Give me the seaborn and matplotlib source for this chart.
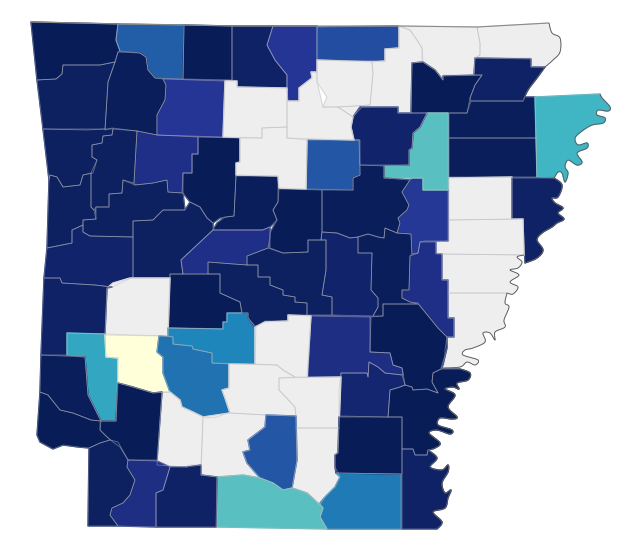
import numpy as np
import matplotlib
matplotlib.use("Agg")
import matplotlib.pyplot as plt
from matplotlib.collections import PolyCollection, LineCollection
from matplotlib.colors import Normalize
import seaborn as sns

nan = float("nan")

# county -> value (share, 0-100); NaN = no data (grey)
counties = ["Benton","Carroll","Boone","Marion","Baxter","Fulton","Izard","Sharp","Randolph","Clay",
 "Lawrence","Greene","Craighead","Poinsett","Mississippi","Cross","Crittenden","StFrancis","Lee","Phillips",
 "Monroe","Woodruff","Jackson","Independence","Cleburne","White","Faulkner","Conway","Pope","Johnson",
 "Newton","Madison","Washington","Crawford","Franklin","Sebastian","Logan","Scott","Yell","Perry",
 "Garland","Montgomery","Polk","Howard","Pike","Clark","HotSpring","Saline","Pulaski","Lonoke",
 "Prairie","Arkansas","Desha","Lincoln","Jefferson","Grant","Dallas","Cleveland","Calhoun","Ouachita",
 "Drew","Ashley","Chicot","DrewN","Bradley","Union","Nevada","Columbia","Lafayette","Miller",
 "Sevier","LittleRiver","Searcy","Stone","VanBuren"]
values = [100,75,100,97,87,80,nan,nan,nan,nan,
 100,97,99,99,50,nan,97,nan,nan,nan,
 90,86,45,96,77,99,100,99,100,90,
 87,99,98,98,98,98,98,96,98,90,
 100,nan,97,55,0,70,65,98,98,96,
 99,100,100,95,91,nan,nan,nan,nan,nan,
 nan,68,97,100,77,45,100,97,91,98,
 99,100,nan,nan,nan]

boundaries = [
 [(31,22),(118,24),(116,40),(120,51),(118,52),(115,62),(100,65),(63,65),(62,74),(56,79),(37,80)],
 [(118,24),(184,25),(183,79),(155,78),(148,70),(146,57),(140,53),(120,51),(116,40)],
 [(184,25),(232,26),(232,80),(183,79)],
 [(232,26),(273,26),(267,45),(275,60),(287,75),(287,88),(237,87),(237,81),(232,80)],
 [(273,26),(317,26),(317,72),(311,72),(312,78),(299,88),(299,101),(288,101),(287,88),(287,75),(275,60),(267,45)],
 [(317,27),(399,26),(399,48),(385,49),(385,61),(317,60)],
 [(317,60),(372,62),(373,73),(370,105),(338,107),(323,107),(327,97),(317,82)],
 [(372,62),(385,61),(385,49),(399,48),(399,26),(410,30),(417,40),(422,48),(422,62),(412,63),(411,113),(398,113),(398,107),(362,107),(353,117),(338,107),(370,105),(373,73)],
 [(399,26),(477,27),(480,43),(480,55),(475,58),(474,75),(443,75),(443,80),(435,70),(423,62),(422,48),(417,40),(410,30)],
 [(477,27),(549,23),(552,33),(560,38),(560,52),(553,60),(545,67),(531,67),(531,58),(475,58),(480,55),(480,43)],
 [(412,63),(423,62),(435,70),(443,80),(443,76),(482,75),(475,85),(470,98),(467,113),(411,113)],
 [(475,58),(531,59),(531,67),(545,67),(537,78),(528,90),(523,101),(471,101),(470,98),(475,85),(482,75),(474,75)],
 [(471,101),(523,101),(525,97),(535,97),(536,138),(449,138),(449,113),(467,113)],
 [(449,138),(536,138),(537,177),(449,177)],
 [(535,97),(600,94),(602,98),(610,107),(608,111),(598,110),(597,115),(605,118),(603,123),(592,125),(582,131),(575,138),(578,145),(587,143),(587,148),(577,153),(582,162),(577,165),(568,160),(565,167),(568,173),(565,182),(562,173),(558,172),(554,178),(537,177)],
 [(449,178),(512,177),(512,219),(449,220)],
 [(512,178),(554,178),(562,185),(558,197),(552,198),(555,203),(563,208),(558,213),(564,219),(557,223),(552,227),(542,233),(537,240),(543,250),(537,258),(525,263),(523,219),(512,219)],
 [(449,220),(523,219),(524,255),(442,254),(436,253),(436,242),(449,241)],
 [(442,254),(524,255),(517,257),(522,262),(518,268),(510,270),(519,275),(510,282),(518,287),(513,294),(507,293),(448,293),(448,280),(442,280)],
 [(448,293),(507,293),(505,303),(509,307),(504,320),(505,327),(495,332),(495,340),(490,333),(483,333),(485,342),(473,348),(465,350),(463,355),(478,360),(475,365),(467,362),(460,367),(441,368),(445,355),(445,350),(447,337),(454,337),(454,318),(448,318)],
 [(420,242),(436,242),(436,254),(442,254),(442,280),(448,280),(448,318),(454,318),(454,337),(447,337),(438,328),(425,312),(418,303),(410,302),(402,298),(402,290),(409,290),(410,256),(418,253)],
 [(413,178),(423,178),(423,190),(448,190),(448,241),(425,241),(420,242),(418,253),(412,254),(411,234),(397,233),(400,223),(398,218),(407,210),(409,205),(402,192),(410,180)],
 [(427,113),(448,113),(448,190),(423,190),(423,178),(384,178),(384,166),(409,165),(409,150),(412,148),(413,133),(420,127)],
 [(360,107),(398,107),(398,113),(427,113),(420,127),(413,133),(412,148),(409,150),(409,165),(360,165),(360,140),(354,140),(351,127),(353,117)],
 [(307,140),(359,140),(360,175),(353,178),(353,190),(306,189)],
 [(322,190),(353,190),(353,178),(360,175),(360,165),(384,166),(384,178),(410,180),(402,192),(409,205),(407,210),(398,218),(400,223),(397,233),(385,228),(384,238),(378,237),(368,234),(358,237),(350,238),(337,233),(322,232)],
 [(279,189),(322,190),(322,232),(321,240),(308,240),(308,252),(283,253),(270,248),(270,233),(277,220),(273,210),(278,202)],
 [(236,176),(278,176),(278,202),(273,210),(277,220),(270,227),(262,230),(213,230),(217,223),(225,217),(234,216)],
 [(198,137),(240,138),(240,162),(236,163),(236,176),(234,216),(220,218),(213,223),(207,218),(200,207),(190,202),(183,193),(183,173),(192,173),(192,154),(198,154)],
 [(137,131),(157,135),(198,137),(198,154),(192,154),(192,173),(183,173),(182,193),(168,192),(167,180),(153,183),(135,185),(134,183)],
 [(163,79),(225,81),(223,137),(157,135),(157,115),(165,100),(166,85)],
 [(118,52),(140,53),(146,57),(148,70),(155,78),(163,79),(166,85),(165,100),(157,115),(157,135),(137,131),(112,128),(105,130),(108,82),(115,62)],
 [(37,80),(56,79),(62,74),(63,65),(100,65),(115,62),(108,82),(105,129),(87,130),(43,129)],
 [(43,129),(113,129),(112,135),(103,136),(102,143),(92,145),(92,157),(97,160),(93,173),(83,175),(80,185),(63,187),(57,177),(50,175),(49,180)],
 [(113,129),(137,131),(134,183),(123,180),(122,193),(109,194),(109,207),(96,207),(94,210),(91,207),(91,173),(97,160),(92,157),(92,145),(102,143),(103,136),(112,135)],
 [(49,180),(50,175),(57,177),(63,187),(80,185),(83,175),(91,173),(91,207),(94,210),(96,219),(83,220),(83,225),(72,230),(72,243),(62,245),(47,248)],
 [(122,193),(123,180),(135,185),(153,183),(167,180),(168,192),(183,193),(185,210),(163,210),(153,220),(133,221),(133,237),(90,236),(83,232),(83,220),(96,219),(96,207),(109,207),(109,194)],
 [(72,230),(83,225),(83,232),(90,236),(133,237),(133,277),(112,287),(95,285),(62,283),(60,278),(44,278),(47,248),(62,245),(72,243)],
 [(133,221),(153,220),(163,210),(185,210),(190,202),(200,207),(207,218),(213,223),(213,230),(181,260),(183,274),(170,274),(170,278),(130,278),(133,277)],
 [(213,230),(263,230),(270,227),(270,237),(268,248),(247,256),(247,265),(208,262),(208,274),(183,274),(181,260)],
 [(170,274),(220,274),(220,293),(240,302),(242,313),(227,313),(227,322),(223,322),(223,329),(168,328)],
 [(113,283),(130,278),(170,278),(168,336),(105,334),(107,288)],
 [(44,278),(60,278),(62,283),(95,285),(112,287),(107,288),(105,334),(67,333),(67,355),(41,355)],
 [(67,333),(105,334),(106,357),(118,358),(116,421),(101,421),(88,395),(85,357),(67,355)],
 [(105,335),(159,336),(157,352),(163,357),(163,373),(170,392),(153,393),(133,387),(118,383),(118,358),(106,357)],
 [(159,336),(173,337),(173,344),(192,346),(193,349),(212,353),(212,363),(229,364),(229,388),(222,390),(225,398),(230,412),(217,417),(207,418),(193,412),(182,407),(180,400),(170,392),(163,373),(163,357),(157,352)],
 [(168,328),(223,329),(223,322),(227,322),(227,313),(248,313),(248,318),(256,327),(255,364),(212,363),(212,353),(193,349),(192,346),(173,344),(173,337),(168,336)],
 [(208,262),(247,265),(258,265),(258,277),(270,277),(270,285),(283,290),(283,295),(295,297),(295,302),(307,303),(307,315),(288,315),(288,321),(265,321),(255,327),(248,318),(248,313),(242,313),(240,302),(220,293),(220,274),(208,274)],
 [(247,256),(268,248),(283,253),(308,252),(308,240),(326,240),(326,270),(322,295),(332,297),(332,315),(307,315),(307,303),(295,302),(295,297),(283,295),(283,290),(270,285),(270,277),(258,277),(258,265),(247,265)],
 [(321,240),(322,232),(337,233),(350,238),(358,237),(358,253),(372,253),(371,290),(378,298),(378,307),(373,316),(332,315),(332,297),(322,295),(326,270),(326,240)],
 [(358,237),(368,234),(378,237),(384,238),(385,228),(397,233),(411,234),(412,254),(410,256),(409,290),(402,290),(402,298),(410,302),(418,304),(383,304),(383,316),(373,316),(378,307),(378,298),(371,290),(372,253),(358,253)],
 [(383,304),(418,304),(425,312),(438,328),(447,337),(447,348),(443,365),(441,369),(433,373),(432,382),(438,393),(427,389),(413,390),(412,387),(405,385),(403,373),(402,368),(393,365),(390,353),(370,352),(371,317),(383,316)],
 [(441,369),(460,369),(470,373),(468,380),(457,383),(459,389),(453,387),(445,389),(455,395),(448,407),(457,417),(452,419),(440,418),(438,425),(452,430),(450,434),(437,430),(429,433),(440,443),(435,448),(428,450),(427,455),(415,455),(413,449),(402,449),(402,417),(388,417),(390,390),(400,387),(405,385),(412,387),(413,390),(427,389),(438,393),(432,382),(433,373)],
 [(341,373),(367,373),(368,377),(369,362),(378,367),(385,373),(402,375),(405,385),(400,387),(390,390),(388,417),(339,416),(339,390)],
 [(311,316),(370,317),(370,352),(390,353),(393,365),(402,368),(403,375),(385,373),(378,367),(369,362),(368,377),(367,373),(341,373),(341,377),(308,377)],
 [(255,327),(265,322),(288,321),(288,315),(311,316),(307,377),(295,377),(283,370),(277,365),(255,364)],
 [(229,364),(277,365),(283,370),(295,377),(279,378),(279,390),(295,407),(296,416),(266,415),(230,413),(225,398),(222,390),(229,388)],
 [(279,378),(341,377),(339,428),(296,428),(296,416),(295,407),(279,390)],
 [(203,417),(230,413),(266,415),(265,427),(248,440),(250,450),(243,452),(247,463),(260,478),(243,475),(217,477),(201,475)],
 [(162,392),(170,392),(180,400),(182,407),(193,412),(203,417),(201,465),(188,465),(187,467),(157,465)],
 [(296,428),(339,428),(338,453),(335,455),(335,467),(340,477),(335,487),(325,497),(320,505),(307,493),(292,488),(297,460)],
 [(336,473),(401,474),(401,529),(327,529),(320,517),(323,508),(320,503),(325,497),(335,487),(340,477)],
 [(402,449),(413,449),(415,455),(427,455),(428,450),(437,458),(430,467),(442,470),(448,465),(448,472),(442,483),(445,493),(451,490),(448,498),(445,508),(433,512),(442,522),(437,529),(402,529)],
 [(339,417),(402,417),(402,474),(336,473),(335,467),(335,455),(338,453)],
 [(266,415),(296,416),(297,460),(292,488),(283,490),(273,483),(260,478),(247,463),(243,452),(250,450),(248,440),(265,427)],
 [(217,477),(243,475),(260,478),(273,483),(283,490),(292,488),(307,493),(320,505),(323,508),(320,517),(327,529),(217,527)],
 [(118,383),(133,387),(153,393),(162,392),(157,460),(128,460),(120,447),(113,442),(105,435),(100,430),(101,421),(116,421)],
 [(170,467),(187,467),(201,465),(201,475),(217,477),(216,527),(156,527),(156,493),(163,490)],
 [(128,460),(157,461),(170,467),(163,490),(156,493),(156,527),(118,526),(110,515),(112,508),(123,503),(130,495),(135,480),(127,467)],
 [(89,448),(100,443),(110,440),(118,442),(128,460),(127,467),(135,480),(130,495),(123,503),(112,508),(110,515),(118,526),(88,526)],
 [(41,355),(85,357),(88,395),(101,421),(91,420),(73,413),(60,410),(48,395),(40,392)],
 [(40,392),(48,395),(60,410),(73,413),(91,420),(100,421),(100,430),(105,435),(110,440),(100,443),(89,448),(78,447),(63,445),(53,449),(40,442),(37,435)],
 [(225,81),(237,81),(237,87),(287,88),(287,127),(262,128),(262,138),(223,137)],
 [(287,101),(299,101),(299,88),(312,78),(311,72),(317,72),(317,82),(323,107),(338,107),(353,117),(351,127),(354,140),(287,138)],
 [(262,128),(287,127),(287,138),(307,140),(306,189),(279,188),(278,176),(236,175),(236,163),(240,162),(240,138),(262,138)],
]

# winding river stretches of the outer border: county, first vertex, last vertex
river_runs = {
 "Clay": ((549,23),(545,67)),
 "Greene": ((545,67),(523,101)),
 "Mississippi": ((600,94),(554,178)),
 "Crittenden": ((554,178),(525,263)),
 "Lee": ((524,255),(507,293)),
 "Phillips": ((507,293),(441,368)),
 "Desha": ((460,369),(428,450)),
 "Chicot": ((428,450),(437,529)),
}
top_border = [(31,22),(118,24),(184,25),(232,26),(317,26),(399,26),(477,27),(549,23)]


def catmull(pts, steps=8):
    pts = np.array(pts, float)
    ext = np.vstack([pts[0], pts, pts[-1]])
    out = []
    for i in range(1, len(ext) - 2):
        p0, p1, p2, p3 = ext[i - 1], ext[i], ext[i + 1], ext[i + 2]
        for t in np.linspace(0, 1, steps, endpoint=False):
            out.append(0.5 * (2 * p1 + (p2 - p0) * t + (2 * p0 - 5 * p1 + 4 * p2 - p3) * t ** 2
                              + (3 * p1 - p0 - 3 * p2 + p3) * t ** 3))
    out.append(pts[-1])
    return np.array(out)


polygons = [np.array(b, float) for b in boundaries]
river_lines = []
for name, (a, b) in river_runs.items():
    k = counties.index(name)
    pts = boundaries[k]
    i, j = pts.index(a), pts.index(b)
    run = catmull(pts[i:j + 1])
    river_lines.append(run)
    polygons[k] = np.vstack([np.array(pts[:i], float).reshape(-1, 2), run,
                             np.array(pts[j + 1:], float).reshape(-1, 2)])

sns.set_style("white")
cmap = sns.color_palette("YlGnBu", as_cmap=True).copy()
cmap.set_bad("#eeeeee")
norm = Normalize(0, 100)
arr = np.ma.masked_invalid(np.array(values, float))

fig, ax = plt.subplots(figsize=(6.4, 5.52), dpi=100)
fig.subplots_adjust(0, 0, 1, 1)
fills = PolyCollection(polygons, array=arr, cmap=cmap, norm=norm,
                       edgecolors="face", linewidths=1.0, zorder=1)
ax.add_collection(fills)
lines = PolyCollection(polygons, facecolors="none",
                       edgecolors=[(0.72, 0.72, 0.75, 0.5)], linewidths=0.6, zorder=2)
ax.add_collection(lines)
ax.add_collection(LineCollection(river_lines, colors="#555555", linewidths=0.6, zorder=3))
ax.add_collection(LineCollection([np.array(top_border, float)], colors="#8a8a8a", linewidths=0.8, zorder=3))
ax.set_xlim(0, 640)
ax.set_ylim(552, 0)
ax.axis("off")
fig.savefig("out.png", dpi=100, facecolor="white")
